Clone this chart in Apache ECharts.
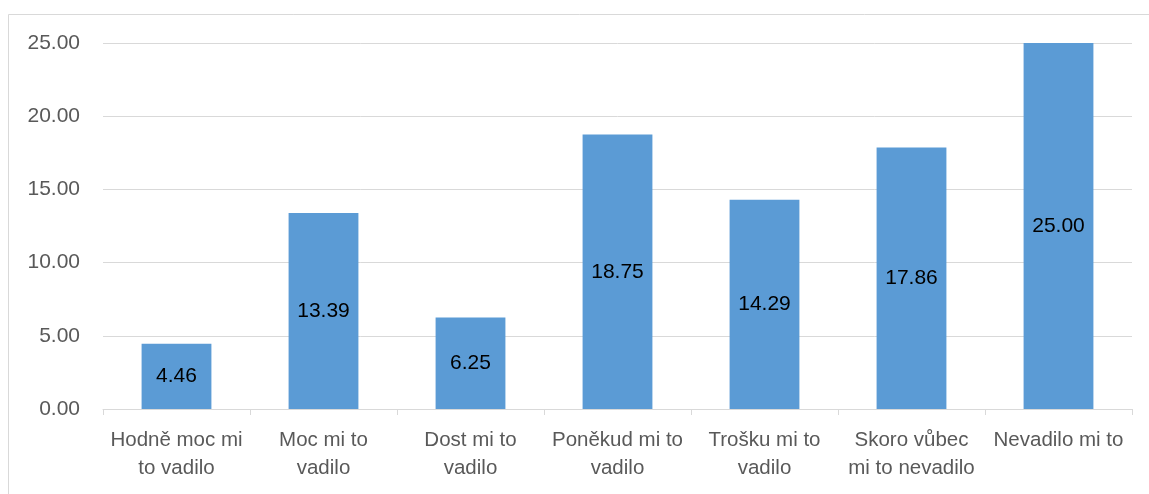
<!DOCTYPE html>
<html>
<head>
<meta charset="utf-8">
<script src="https://cdn.jsdelivr.net/npm/echarts@6/dist/echarts.min.js"></script>
<style>
  html, body { margin: 0; padding: 0; background: #fff; }
  #chart { width: 1149px; height: 494px; }
</style>
</head>
<body>
<div id="chart"></div>
<script>
// Answers: how much it bothered the respondent (percent)
const categories = [
  'Hodně moc mi\nto vadilo',
  'Moc mi to\nvadilo',
  'Dost mi to\nvadilo',
  'Poněkud mi to\nvadilo',
  'Trošku mi to\nvadilo',
  'Skoro vůbec\nmi to nevadilo',
  'Nevadilo mi to'
];
const percentages = [4.46, 13.39, 6.25, 18.75, 14.29, 17.86, 25.00];

const yMin = 0;
const yMax = 25;
const yStep = 5;

const FONT = '"Liberation Sans", Arial, sans-serif';

const chart = echarts.init(document.getElementById('chart'), null, { renderer: 'canvas' });
chart.setOption({
  animation: false,
  backgroundColor: '#ffffff',
  graphic: [{
    type: 'rect',
    shape: { x: 8.5, y: 14.5, width: 1200, height: 540 },
    style: { fill: 'none', stroke: '#d9d9d9', lineWidth: 1 },
    silent: true
  }],
  grid: { left: 103, right: 17, top: 43, bottom: 85, containLabel: false },
  xAxis: {
    type: 'category',
    data: categories,
    axisLine: { show: true, lineStyle: { color: '#d9d9d9', width: 1 } },
    axisTick: { show: true, length: 6, alignWithLabel: false, lineStyle: { color: '#d9d9d9' } },
    axisLabel: {
      interval: 0,
      color: '#595959',
      fontFamily: FONT,
      fontSize: 20.5,
      lineHeight: 28,
      margin: 17
    }
  },
  yAxis: {
    type: 'value',
    min: yMin,
    max: yMax,
    interval: yStep,
    axisLine: { show: false },
    axisTick: { show: false },
    splitLine: { lineStyle: { color: '#d9d9d9', width: 1 } },
    axisLabel: {
      color: '#595959',
      fontFamily: FONT,
      fontSize: 21,
      margin: 23,
      formatter: v => v.toFixed(2)
    }
  },
  series: [{
    type: 'bar',
    data: percentages,
    barWidth: '47.5%',
    itemStyle: { color: '#5b9bd5' },
    label: {
      show: true,
      position: 'inside',
      color: '#000000',
      fontFamily: FONT,
      fontSize: 21,
      formatter: p => p.value.toFixed(2)
    }
  }]
});
</script>
</body>
</html>
